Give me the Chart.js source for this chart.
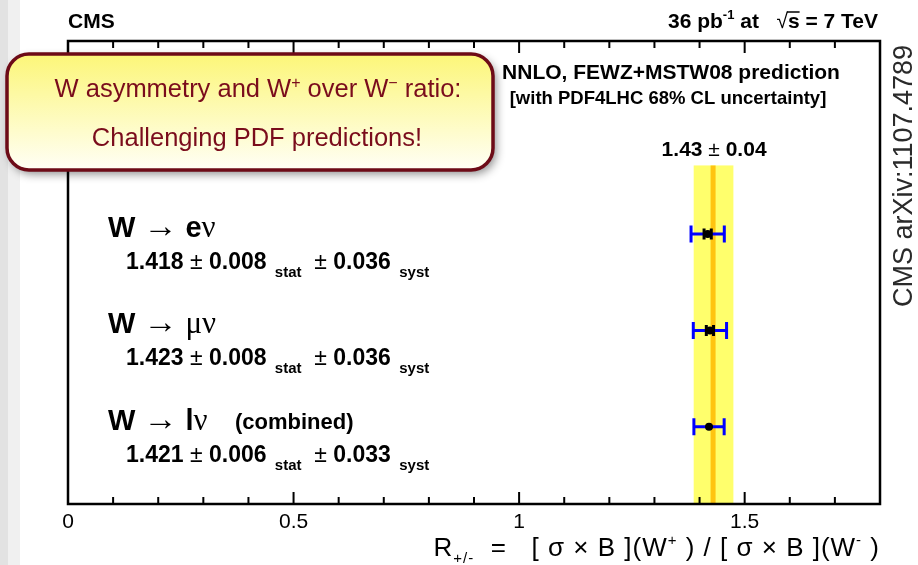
<!DOCTYPE html>
<html>
<head>
<meta charset="utf-8">
<script src="https://cdn.jsdelivr.net/npm/chart.js@4.4.1/dist/chart.umd.min.js"></script>
<style>
    html, body { margin: 0; padding: 0; background: #fff; }
    #wrap { width: 918px; height: 565px; }
</style>
</head>
<body>
<div id="wrap"><canvas id="ratioChart" width="918" height="565"></canvas></div>
<script>
// R+/- measurements per channel (top to bottom)
const rowPos = [3, 2, 1];
const ratio = [1.418, 1.423, 1.421];
const statErr = [0.008, 0.008, 0.006];
const systErr = [0.036, 0.036, 0.033];

// NNLO FEWZ+MSTW08 prediction band
const predCentral = 1.43;
const predLow = 1.387;
const predHigh = 1.475;
const bandTop = 3.71;

// labelled x ticks (minor ticks every 0.1)
const xTicks = [0, 0.5, 1, 1.5];

const SANS = '"Liberation Sans", Arial, sans-serif';
const SERIF = '"Liberation Serif", "Times New Roman", serif';

function runsWidth(ctx, runs) {
    let w = 0;
    runs.forEach(r => { ctx.font = r.font; w += ctx.measureText(r.t).width; });
    return w;
}

function drawRuns(ctx, x, y, runs, align) {
    let cx = x;
    if (align === 'right') cx = x - runsWidth(ctx, runs);
    if (align === 'center') cx = x - runsWidth(ctx, runs) / 2;
    const pos = [];
    runs.forEach(r => {
        ctx.font = r.font;
        ctx.fillText(r.t, cx, y + (r.dy || 0));
        const w = ctx.measureText(r.t).width;
        pos.push([cx, cx + w]);
        cx += w;
    });
    return pos;
}

function tickLabel(v) {
    const t = xTicks.find(t => Math.abs(t - v) < 1e-6);
    return t === undefined ? '' : String(t);
}

const decorations = {
    id: 'decorations',
    beforeDraw(chart) {
        const ctx = chart.ctx;
        ctx.save();
        ctx.fillStyle = '#fff';
        ctx.fillRect(0, 0, chart.width, chart.height);
        ctx.fillStyle = '#f0f0f0';
        ctx.fillRect(0, 0, 20, chart.height);
        ctx.fillStyle = '#e2e2e2';
        ctx.fillRect(0, 0, 8, chart.height);
        ctx.restore();
    },
    beforeDatasetsDraw(chart) {
        const ctx = chart.ctx;
        const xs = chart.scales.x, ys = chart.scales.y;
        const a = chart.chartArea;
        ctx.save();
        // prediction band
        const yTop = ys.getPixelForValue(bandTop);
        ctx.fillStyle = '#ffff6c';
        ctx.fillRect(xs.getPixelForValue(predLow), yTop,
            xs.getPixelForValue(predHigh) - xs.getPixelForValue(predLow), a.bottom - yTop);
        ctx.strokeStyle = '#ffc410';
        ctx.lineWidth = 5;
        ctx.beginPath();
        ctx.moveTo(xs.getPixelForValue(predCentral), yTop);
        ctx.lineTo(xs.getPixelForValue(predCentral), a.bottom);
        ctx.stroke();

        // error bars
        ratio.forEach((v, i) => {
            const y = ys.getPixelForValue(rowPos[i]);
            const tot = Math.sqrt(statErr[i] ** 2 + systErr[i] ** 2);
            const x0 = xs.getPixelForValue(v - tot), x1 = xs.getPixelForValue(v + tot);
            ctx.strokeStyle = '#0000ff';
            ctx.lineWidth = 3;
            ctx.beginPath();
            ctx.moveTo(x0, y); ctx.lineTo(x1, y);
            ctx.moveTo(x0, y - 8.5); ctx.lineTo(x0, y + 8.5);
            ctx.moveTo(x1, y - 8.5); ctx.lineTo(x1, y + 8.5);
            ctx.stroke();

            const s0 = xs.getPixelForValue(v - statErr[i]), s1 = xs.getPixelForValue(v + statErr[i]);
            const xc = xs.getPixelForValue(v);
            // stat bar hidden when it stays inside the marker
            if (xc - s0 > 3.2) {
                ctx.strokeStyle = '#000';
                ctx.lineWidth = 3;
                ctx.beginPath();
                ctx.moveTo(s0, y); ctx.lineTo(s1, y);
                ctx.moveTo(s0, y - 5.5); ctx.lineTo(s0, y + 5.5);
                ctx.moveTo(s1, y - 5.5); ctx.lineTo(s1, y + 5.5);
                ctx.stroke();
            }
        });
        ctx.restore();
    },
    afterDatasetsDraw(chart) {
        const ctx = chart.ctx;
        const xs = chart.scales.x, ys = chart.scales.y;
        const a = chart.chartArea;
        ctx.save();

        // ticks inside the frame, top and bottom
        ctx.strokeStyle = '#000';
        ctx.lineWidth = 2;
        ctx.beginPath();
        xs.ticks.forEach(t => {
            const px = xs.getPixelForValue(t.value);
            const len = tickLabel(t.value) ? 12 : 7;
            ctx.moveTo(px, a.bottom); ctx.lineTo(px, a.bottom - len);
            ctx.moveTo(px, a.top); ctx.lineTo(px, a.top + len);
        });
        ctx.stroke();

        // frame
        ctx.lineWidth = 2.5;
        ctx.strokeRect(a.left, a.top, a.right - a.left, a.bottom - a.top);

        ctx.fillStyle = '#000';
        ctx.textBaseline = 'alphabetic';
        ctx.textAlign = 'left';

        // header
        ctx.font = 'bold 21px ' + SANS;
        ctx.fillText('CMS', a.left, 28);
        const B21 = 'bold 21px ' + SANS;
        const hdr = drawRuns(ctx, a.right - 2, 28, [
            { t: '36 pb', font: B21 },
            { t: '-1', font: 'bold 13px ' + SANS, dy: -9 },
            { t: ' at   ', font: B21 },
            { t: '√', font: '21px ' + SANS },
            { t: 's', font: B21 },
            { t: ' = 7 TeV', font: B21 }
        ], 'right');
        ctx.lineWidth = 1.5;
        ctx.beginPath();
        ctx.moveTo(hdr[3][1] - 1, 12);
        ctx.lineTo(hdr[4][1], 12);
        ctx.stroke();

        // prediction text
        drawRuns(ctx, 671, 79, [{ t: 'NNLO, FEWZ+MSTW08 prediction', font: 'bold 21px ' + SANS }], 'center');
        drawRuns(ctx, 668, 104, [{ t: '[with PDF4LHC 68% CL uncertainty]', font: 'bold 18.5px ' + SANS }], 'center');
        drawRuns(ctx, xs.getPixelForValue(predCentral) + 1, 156, [
            { t: '1.43 ', font: 'bold 21px ' + SANS },
            { t: '±', font: '21px ' + SANS },
            { t: ' 0.04', font: 'bold 21px ' + SANS }
        ], 'center');

        // channel labels
        const B29 = 'bold 29px ' + SANS;
        const ARW = '34px ' + SERIF;
        const GRK = '31px ' + SERIF;
        const names = [
            [{ t: 'W ', font: B29 }, { t: '→', font: ARW }, { t: ' e', font: B29 }, { t: 'ν', font: GRK }],
            [{ t: 'W ', font: B29 }, { t: '→', font: ARW }, { t: ' ', font: B29 }, { t: 'μν', font: GRK }],
            [{ t: 'W ', font: B29 }, { t: '→', font: ARW }, { t: ' l', font: B29 }, { t: 'ν', font: GRK }]
        ];
        const B23 = 'bold 23px ' + SANS;
        const N23 = '23px ' + SANS;
        const SUB = 'bold 15px ' + SANS;
        rowPos.forEach((r, i) => {
            const y = ys.getPixelForValue(r);
            drawRuns(ctx, 108, y + 3, names[i], 'left');
            drawRuns(ctx, 126, y + 35, [
                { t: ratio[i].toFixed(3), font: B23 },
                { t: ' ± ', font: N23 },
                { t: statErr[i].toFixed(3), font: B23 },
                { t: '  stat', font: SUB, dy: 8 },
                { t: '  ± ', font: N23 },
                { t: systErr[i].toFixed(3), font: B23 },
                { t: '  syst', font: SUB, dy: 8 }
            ], 'left');
        });
        ctx.font = 'bold 22px ' + SANS;
        ctx.fillText('(combined)', 235, ys.getPixelForValue(rowPos[2]) + 2);

        // axis title
        const T26 = '26px ' + SANS;
        const S15 = '15px ' + SANS;
        ctx.letterSpacing = '1px';
        drawRuns(ctx, a.right, 556, [
            { t: 'R', font: T26 },
            { t: '+/-', font: S15, dy: 7 },
            { t: '  =   [ σ × B ](W', font: T26 },
            { t: '+', font: S15, dy: -11 },
            { t: ' ) / [ σ × B ](W', font: T26 },
            { t: '-', font: S15, dy: -11 },
            { t: ' )', font: T26 }
        ], 'right');
        ctx.letterSpacing = '0px';

        // arXiv reference
        ctx.save();
        ctx.translate(912, 176);
        ctx.rotate(-Math.PI / 2);
        ctx.fillStyle = '#2a2a2a';
        ctx.font = '27px ' + SANS;
        ctx.textAlign = 'center';
        ctx.fillText('CMS arXiv:1107.4789', 0, 0);
        ctx.restore();

        // callout box
        ctx.save();
        ctx.shadowColor = 'rgba(0,0,0,0.45)';
        ctx.shadowBlur = 10;
        ctx.shadowOffsetX = 3;
        ctx.shadowOffsetY = 4;
        const grad = ctx.createLinearGradient(0, 54, 0, 170);
        grad.addColorStop(0, '#fcf678');
        grad.addColorStop(1, '#fffff6');
        ctx.fillStyle = grad;
        ctx.beginPath();
        ctx.roundRect(7, 54, 486, 116, 22);
        ctx.fill();
        ctx.restore();
        ctx.strokeStyle = '#6d0b17';
        ctx.lineWidth = 3.5;
        ctx.beginPath();
        ctx.roundRect(7, 54, 486, 116, 22);
        ctx.stroke();

        ctx.fillStyle = '#7a0c1c';
        const N25 = '25.5px ' + SANS;
        const SUP = '16px ' + SANS;
        drawRuns(ctx, 258, 97, [
            { t: 'W asymmetry and W', font: N25 },
            { t: '+', font: SUP, dy: -9 },
            { t: ' over W', font: N25 },
            { t: '−', font: SUP, dy: -9 },
            { t: ' ratio:', font: N25 }
        ], 'center');
        drawRuns(ctx, 257, 146, [{ t: 'Challenging PDF predictions!', font: N25 }], 'center');

        ctx.restore();
    }
};

const ctx = document.getElementById('ratioChart').getContext('2d');
new Chart(ctx, {
    type: 'scatter',
    data: {
        datasets: [{
            data: ratio.map((v, i) => ({ x: v, y: rowPos[i] })),
            pointRadius: 4,
            pointBackgroundColor: '#000',
            pointBorderWidth: 0
        }]
    },
    options: {
        responsive: false,
        animation: false,
        devicePixelRatio: 1,
        layout: { padding: { left: 68, right: 38, top: 41, bottom: 0 } },
        plugins: { legend: { display: false }, tooltip: { enabled: false } },
        scales: {
            x: {
                type: 'linear',
                min: 0,
                max: 1.8,
                afterFit: s => { s.height = 61; },
                grid: { display: false, drawTicks: false },
                border: { display: false },
                ticks: {
                    stepSize: 0.1,
                    autoSkip: false,
                    maxRotation: 0,
                    padding: 6,
                    color: '#000',
                    font: { family: SANS, size: 21 },
                    callback: v => tickLabel(v)
                }
            },
            y: {
                type: 'linear',
                min: 0.2,
                max: 5.0,
                display: false
            }
        }
    },
    plugins: [decorations]
});
</script>
</body>
</html>
